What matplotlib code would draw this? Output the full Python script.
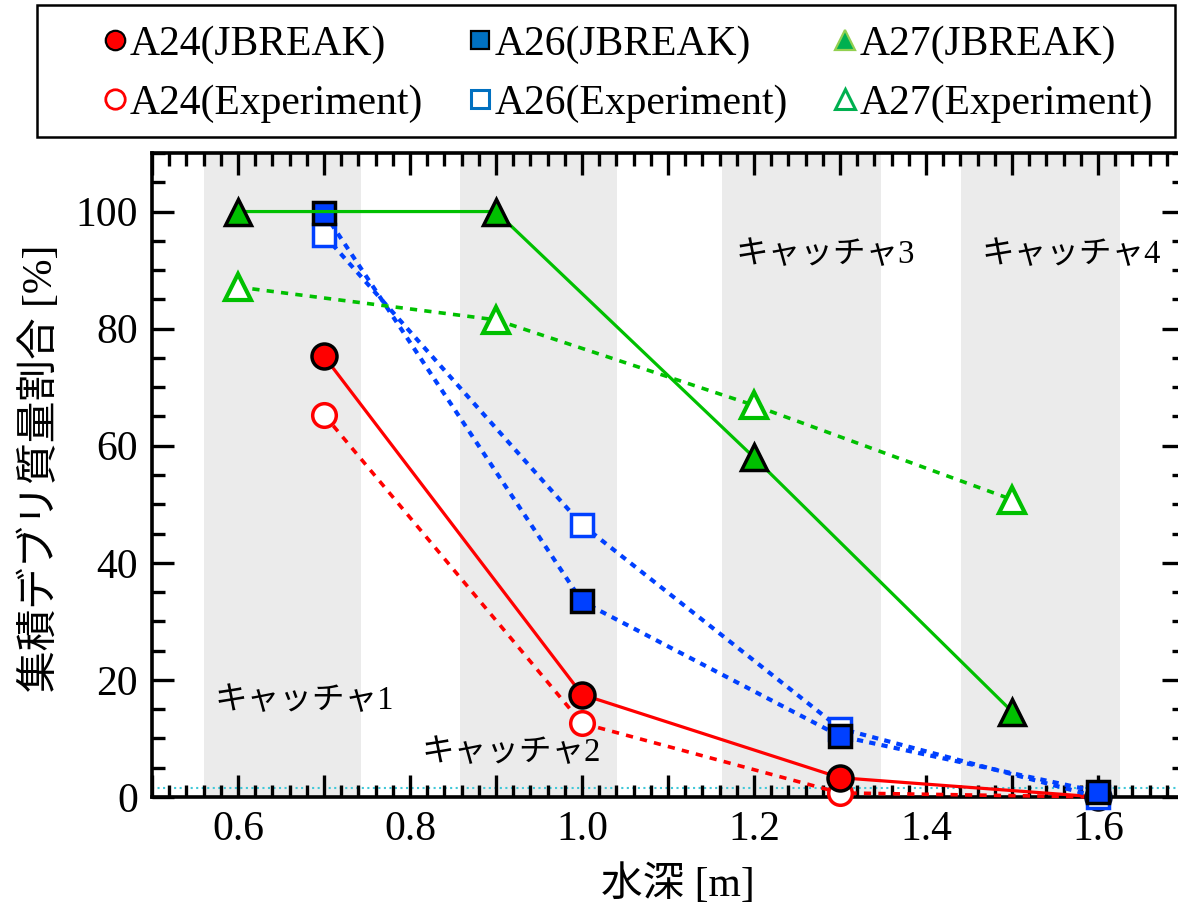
import numpy as np
import matplotlib
matplotlib.use("Agg")
import matplotlib.pyplot as plt
from matplotlib.lines import Line2D
from matplotlib.patches import Rectangle
from matplotlib.ticker import MultipleLocator, FuncFormatter

plt.rcParams['font.family'] = ['Liberation Serif', 'Noto Sans CJK JP']

# water depth [m]
depth_a24 = [0.7, 1.0, 1.3, 1.6]
a24_jbreak = [75.3, 17.5, 3.3, 0.0]
a24_exp = [65.3, 12.6, 0.7, 0.0]

depth_a26 = [0.7, 1.0, 1.3, 1.6]
a26_jbreak = [99.8, 33.4, 10.4, 0.9]
a26_exp = [96.0, 46.5, 11.7, 0.0]

depth_a27 = [0.6, 0.9, 1.2, 1.5]
a27_jbreak = [100.0, 100.0, 58.0, 14.6]
a27_exp = [87.1, 81.5, 66.9, 50.8]

# catcher regions (x ranges) and labels
catcher_spans = [(0.56, 0.743), (0.858, 1.041), (1.163, 1.348), (1.441, 1.626)]
catcher_labels = ['キャッチャ1', 'キャッチャ2', 'キャッチャ3', 'キャッチャ4']
catcher_pos = [(0.573, 16.4), (0.813, 7.6), (1.178, 92.6), (1.465, 92.6)]

red = '#FF0000'
blue = '#0040FF'
green = '#00C000'

fig = plt.figure(figsize=(11.78, 9.10), dpi=100)
ax = fig.add_axes([152/1178, 113/910, 1032/1178, 644/910])

for x0, x1 in catcher_spans:
    ax.axvspan(x0, x1, color='#EBEBEB', zorder=0, lw=0)
for (tx, ty), lab in zip(catcher_pos, catcher_labels):
    ax.text(tx, ty, lab, fontsize=23.5, va='center', ha='left', zorder=1)

ax.axhline(1.6, color='#40C8D8', lw=1.5, ls=':', zorder=1)

ms = 18
lw_solid = 2.3
kw = dict(clip_on=False, zorder=3)

# A24
ax.plot(depth_a24, a24_exp, color=red, ls=(0, (2, 2)), lw=2.6, marker='o', ms=ms-1,
        mfc='white', mec=red, mew=2.5, **kw)
ax.plot(depth_a24, a24_jbreak, color=red, ls='-', lw=lw_solid, marker='o', ms=ms,
        mfc=red, mec='black', mew=2.5, **kw)
# A26
ax.plot(depth_a26, a26_exp, color=blue, ls=(0, (1.5, 1.5)), lw=3, marker='s', ms=ms-2,
        mfc='white', mec=blue, mew=2.5, **kw)
ax.plot(depth_a26, a26_jbreak, color=blue, ls=(0, (1.5, 1.5)), lw=3, marker='s', ms=ms-2,
        mfc=blue, mec='black', mew=2.5, **kw)
# A27
ax.plot(depth_a27, a27_exp, color=green, ls=(0, (2, 2)), lw=2.6, marker='^', ms=ms+1,
        mfc='white', mec=green, mew=3, **kw)
ax.plot(depth_a27, a27_jbreak, color=green, ls='-', lw=lw_solid, marker='^', ms=ms+1,
        mfc=green, mec='black', mew=2.5, **kw)

ax.set_xlim(0.5, 1.7)
ax.set_ylim(0, 110)
ax.xaxis.set_major_locator(MultipleLocator(0.1))
ax.xaxis.set_minor_locator(MultipleLocator(0.02))
ax.yaxis.set_major_locator(MultipleLocator(20))
ax.yaxis.set_minor_locator(MultipleLocator(5))

def xfmt(v, pos):
    k = int(round(v * 10))
    if k % 2 == 0 and 6 <= k <= 16:
        return '%.1f' % v
    return ''
ax.xaxis.set_major_formatter(FuncFormatter(xfmt))

ax.tick_params(which='both', direction='in', top=True, right=True, width=2.4,
               labelsize=30, pad=10)
ax.tick_params(which='major', length=16)
ax.tick_params(which='minor', length=9)
for s in ax.spines.values():
    s.set_linewidth(2.6)

ax.set_xlabel('水深 [m]', fontsize=30)
ax.set_ylabel('集積デブリ質量割合 [%]', fontsize=30)
ax.xaxis.set_label_coords(0.51, -0.105)
ax.yaxis.set_label_coords(-0.088, 0.51)

# legend
handles = [
    Line2D([], [], ls='none', marker='o', ms=14, mfc=red, mec='black', mew=1.6),
    Line2D([], [], ls='none', marker='o', ms=14, mfc='white', mec=red, mew=2),
    Line2D([], [], ls='none', marker='s', ms=13, mfc='#0070C0', mec='black', mew=1.6),
    Line2D([], [], ls='none', marker='s', ms=13, mfc='white', mec='#0070C0', mew=2.2),
    Line2D([], [], ls='none', marker='^', ms=14, mfc='#00B050', mec='#92D050', mew=1.6),
    Line2D([], [], ls='none', marker='^', ms=14, mfc='white', mec='#00B050', mew=2.2),
]
labels = ['A24(JBREAK)', 'A24(Experiment)', 'A26(JBREAK)', 'A26(Experiment)',
          'A27(JBREAK)', 'A27(Experiment)']
fig.legend(handles, labels, ncol=3, loc='upper left', bbox_to_anchor=(100/1178, 1 - 25/910),
           frameon=False, fontsize=30, borderpad=0, handlelength=0.7, handletextpad=0.02,
           columnspacing=1.0, labelspacing=0.5, borderaxespad=0)
fig.patches.append(Rectangle((37/1178, 1 - 137/910), 1138/1178, 132/910, transform=fig.transFigure,
                             fill=False, ec='black', lw=1.8))

fig.savefig('out.png', dpi=100)
